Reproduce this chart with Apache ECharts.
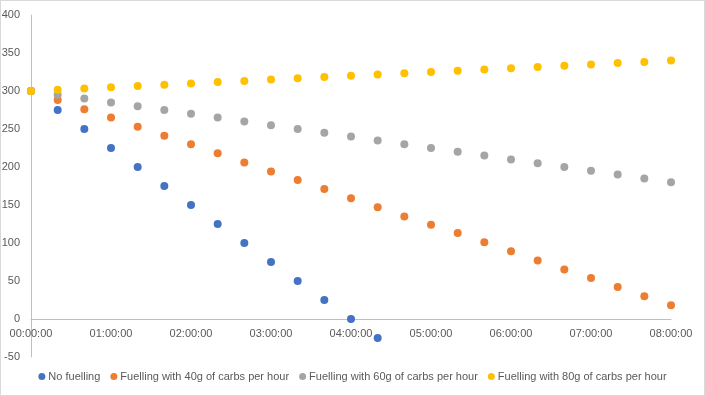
<!DOCTYPE html>
<html>
<head>
<meta charset="utf-8">
<script src="https://cdn.jsdelivr.net/npm/echarts@6/dist/echarts.min.js"></script>
<style>
html,body{margin:0;padding:0;background:#fff;}
#wrap{position:absolute;left:0;top:0;width:703px;height:394px;border:1px solid #d9d9d9;}
#chart{position:absolute;left:0;top:0;width:705px;height:396px;}
</style>
</head>
<body>
<div id="wrap"></div>
<div id="chart"></div>
<script>
const times = ['00:00:00','00:20:00','00:40:00','01:00:00','01:20:00','01:40:00','02:00:00','02:20:00','02:40:00','03:00:00','03:20:00','03:40:00','04:00:00','04:20:00','04:40:00','05:00:00','05:20:00','05:40:00','06:00:00','06:20:00','06:40:00','07:00:00','07:20:00','07:40:00','08:00:00'];
const seriesNames = ['No fuelling','Fuelling with 40g of carbs per hour','Fuelling with 60g of carbs per hour','Fuelling with 80g of carbs per hour'];
const noFuelling = [300,275,250,225,200,175,150,125,100,75,50,25,0,-25];
const fuel40 = [300,288,276,265,253,241,230,218,206,194,183,171,159,147,135,124,113,101,89,77,65,54,42,30,18];
const fuel60 = [300,295,290,285,280,275,270,265,260,255,250,245,240,235,230,225,220,215,210,205,200,195,190,185,180];
const fuel80 = [300,301.7,303.3,305,306.7,308.3,310,311.7,313.3,315,316.7,318.3,320,321.7,323.3,325,326.7,328.3,330,331.7,333.3,335,336.7,338.3,340];
const colors = ['#4472C4','#ED7D31','#A5A5A5','#FFC000'];

function toMin(s){const p=s.split(':').map(Number);return p[0]*60+p[1]+p[2]/60;}
function fmt(m){const h=Math.floor(m/60),mm=Math.round(m%60);return String(h).padStart(2,'0')+':'+String(mm).padStart(2,'0')+':00';}
function pairs(vals){return vals.map((v,i)=>[toMin(times[i]),v]);}

const font = 'Liberation Sans';
const yMin = -50, yMax = 400;
const gridTop = 15, gridBottom = 39, H = 396;
const plotH = H - gridTop - gridBottom;
const zeroOffset = -plotH * (0 - yMin) / (yMax - yMin);

const chart = echarts.init(document.getElementById('chart'));
chart.setOption({
  animation:false,
  color:colors,
  grid:{left:31,right:34,top:gridTop,bottom:gridBottom,containLabel:false,outerBoundsMode:'none'},
  legend:{
    bottom:9,left:'center',
    icon:'circle',itemWidth:7,itemHeight:7,itemGap:10,
    textStyle:{fontFamily:font,fontSize:11,color:'#595959',padding:[0,0,0,-2]},
    data:seriesNames
  },
  xAxis:{
    type:'value',min:0,max:480,interval:60,offset:zeroOffset,
    axisLine:{show:true,onZero:false,lineStyle:{color:'#bfbfbf'}},
    axisTick:{show:false},
    splitLine:{show:false},
    axisLabel:{fontFamily:font,fontSize:11,color:'#595959',margin:9,formatter:v=>fmt(v),showMaxLabel:true}
  },
  yAxis:{
    type:'value',min:yMin,max:yMax,interval:50,
    axisLine:{show:true,lineStyle:{color:'#bfbfbf'}},
    axisTick:{show:false},
    splitLine:{show:false},
    axisLabel:{fontFamily:font,fontSize:11,color:'#595959',margin:11}
  },
  series:[
    {name:seriesNames[0],type:'scatter',symbolSize:8,itemStyle:{opacity:1},data:pairs(noFuelling)},
    {name:seriesNames[1],type:'scatter',symbolSize:8,itemStyle:{opacity:1},data:pairs(fuel40)},
    {name:seriesNames[2],type:'scatter',symbolSize:8,itemStyle:{opacity:1},data:pairs(fuel60)},
    {name:seriesNames[3],type:'scatter',symbolSize:8,itemStyle:{opacity:1},data:pairs(fuel80)}
  ]
});
</script>
</body>
</html>
